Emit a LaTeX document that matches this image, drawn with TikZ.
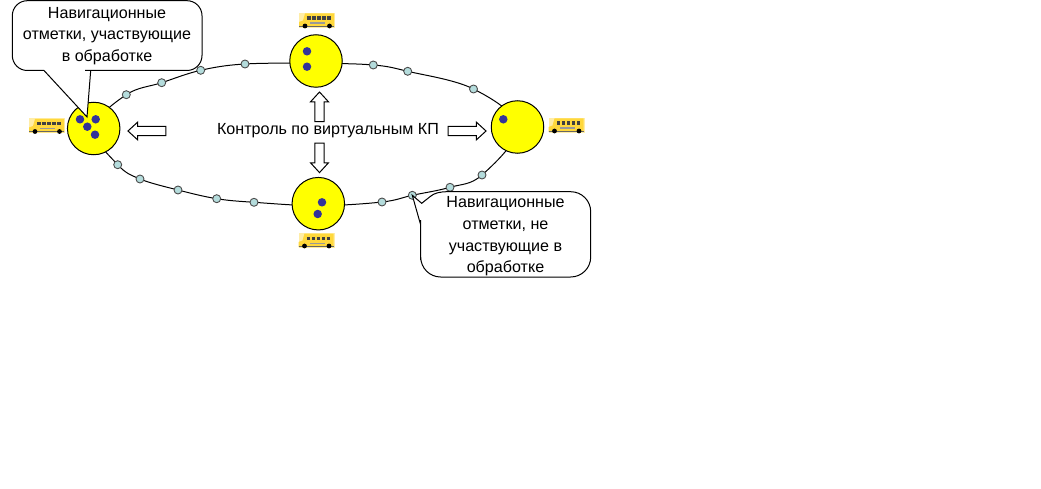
\documentclass[tikz,border=0pt]{standalone}
\usepackage{fontspec}
\setmainfont{Liberation Sans}
\usepackage{tikz}
\usetikzlibrary{backgrounds}
\usetikzlibrary{shapes.arrows}
\definecolor{kpyellow}{HTML}{FFFF00}
\definecolor{dotblue}{HTML}{333399}
\definecolor{marklight}{HTML}{B4DCDC}
\definecolor{busyellow}{HTML}{FFD83C}

\begin{document}
\begin{tikzpicture}[
    x=1pt, y=-1pt,
    kp style/.style={circle, draw, line width=1pt, fill=kpyellow, minimum size=52.5pt, inner sep=0pt},
    dot style/.style={circle, fill=dotblue, minimum size=8.5pt, inner sep=0pt},
    mark style/.style={circle, draw=black!70, line width=0.9pt, fill=marklight, minimum size=8pt, inner sep=0pt},
    block style/.style={single arrow, draw, line width=1pt, fill=white, inner sep=4.15pt,
        minimum width=17pt, minimum height=38pt, single arrow head extend=4.3pt, single arrow tip angle=85},
    label style/.style={align=center, inner sep=0pt, font=\fontsize{16.1}{21.7}\selectfont},
    callout style/.style={draw, line width=1pt, fill=white},
    bus/.pic={
        \fill[busyellow!45] (-18,-7.5) rectangle (18,7.5);
        \fill[busyellow] (-18,6) -- (-18,1.5) -- (-14,0) -- (-12,-7) -- (17,-7) -- (17,6.5) -- (-18,6.5) -- cycle;
        \foreach \wx in {-8,-3,2,7,12}
            \fill[black!75] (\wx-1.8,-4) rectangle (\wx+1.8,-0.5);
        \fill[black!40] (-7,2) rectangle (8,3.5);
        \draw[black!60, line width=0.5pt] (-18,5.5) -- (17,5.5);
        \fill[black] (-12,5.5) circle (2.4);
        \fill[black] (12.5,5.5) circle (2.4);
    }
]
\useasboundingbox (0,0) rectangle (1041,489);

% control points
\node[kp style] (kpL) at (93.7,128.5) {};
\node[kp style] (kpT) at (316,61) {};
\node[kp style] (kpR) at (517.5,127) {};
\node[kp style] (kpB) at (318.3,203.7) {};

% marks on the route
\foreach \mx/\my [count=\i] in {126.3/94.7, 161.7/82.7, 200.7/70.3, 245/64,
        373.3/65, 407.7/71.3, 473.5/89,
        482/175, 450/187.3, 412.3/195.3, 382/202,
        254/202.3, 216.7/198.7, 178/190, 140/179, 117.7/164.7}
    \node[mark style] (m\i) at (\mx,\my) {};

\coordinate (cT) at (316,63.3);
\coordinate (cB) at (318.3,205.7);
\begin{scope}[on background layer]
    \draw[line width=1pt] plot[smooth cycle, tension=0.6] coordinates {(m1) (m2) (m3) (m4) (cT) (m5) (m6) (m7)
        (kpR) (m8) (m9) (m10) (m11) (cB) (m12) (m13) (m14) (m15) (m16) (kpL)};
\end{scope}

% points on the circles
\foreach \dx/\dy [count=\i] in {80/119.3, 95.7/119.3, 87.3/126.7, 95/134.7,
        307/51.3, 307/66.7, 503.3/119.3, 322/202.3, 317.7/214}
    \node[dot style] (d\i) at (\dx,\dy) {};

% buses
\pic (busL) at (47,126) {bus};
\pic (busT) at (317,20.5) {bus};
\pic (busR) at (566.5,125.5) {bus};
\pic (busB) at (316.5,240.5) {bus};

% arrows round the text
\node[label style] (ctrl) at (328,130.5) {Контроль по виртуальным КП};
\node[block style, shape border rotate=180] (arL) at (149.5,131) {};
\node[block style] (arR) at (464.5,131) {};
\node[block style, shape border rotate=90, minimum height=29.5pt] (arT) at (319.5,109.3) {};
\node[block style, shape border rotate=270, minimum height=29.5pt] (arB) at (319.5,155.3) {};

% callouts
\draw[callout style, rounded corners=15pt] (107,0.7) -- (202,0.7) -- (202,70.5) -- (100,70.5)
    [sharp corners] -- (90.7,70.5) -- (87,117) -- (44,70.5) -- (35,70.5)
    [rounded corners=15pt] -- (12.3,70.5) -- (12.3,0.7) -- cycle;
\node[label style] (noteL) at (107,36) {Навигационные\\отметки, участвующие\\в обработке};

\coordinate (tailR) at (412.3,195.3);
\draw[callout style, rounded corners=20pt] (505,191.7) -- (590.7,191.7) -- (590.7,277) -- (420.7,277) -- (420.7,240)
    [sharp corners] -- (420.7,225) -- (tailR) -- (421.7,203.3) -- (430,196.7) .. controls (434,193) and (440,191.7) .. (448,191.7) -- cycle;
\node[label style] (noteR) at (505.5,236.5) {Навигационные\\отметки, не\\участвующие в\\обработке};
\end{tikzpicture}
\end{document}
